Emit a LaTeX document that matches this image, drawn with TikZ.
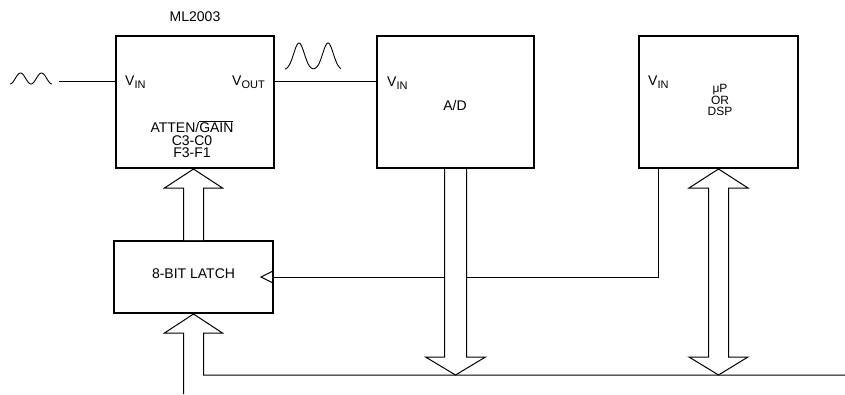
\documentclass[tikz,border=0pt]{standalone}
\usepackage{fontspec}
\setmainfont{Liberation Sans}
\usetikzlibrary{calc}
\newcommand{\lowsub}[1]{\raisebox{-3pt}{\fontsize{11}{11}\selectfont #1}}
\begin{document}
\begin{tikzpicture}[x=1pt,y=-1pt,
 box/.style={draw, line width=2pt, inner sep=0pt},
 wire/.style={line width=1pt},
 bus/.style={line width=1pt, fill=white, line join=miter},
 lbl/.style={inner sep=0pt, font=\fontsize{14}{14}\selectfont},
 small/.style={inner sep=0pt, font=\fontsize{12}{12}\selectfont}]
\useasboundingbox (0,0) rectangle (845,394);
% boxes
\node[box, minimum width=158pt, minimum height=132pt] (ml) at (195,102) {};
\node[box, minimum width=157pt, minimum height=132pt] (ad) at (455.5,102) {};
\node[box, minimum width=159pt, minimum height=132pt] (up) at (718.5,102) {};
\node[box, minimum width=159pt, minimum height=72pt] (latch) at (193.5,277) {};
% labels
\node[lbl] (mlname) at (195,17) {ML2003};
\node[lbl, anchor=base west] (vin1) at (125,85) {V\lowsub{IN}};
\node[lbl, anchor=base east] (vout) at (265,85) {V\lowsub{OUT}};
\node[lbl, anchor=base] (atten) at (192,132) {ATTEN/$\overline{\hbox{GAIN}}$};
\node[lbl, anchor=base] (cc) at (192,145) {C3-C0};
\node[lbl, anchor=base] (ff) at (192,157.5) {F3-F1};
\node[lbl, anchor=base west] (vin2) at (387,86) {V\lowsub{IN}};
\node[lbl] (adl) at (455,105) {A/D};
\node[lbl, anchor=base west] (vin3) at (648,85) {V\lowsub{IN}};
\node[small, anchor=base] (mup) at (720,92.5) {μP};
\node[small, anchor=base] (orl) at (720,104) {OR};
\node[small, anchor=base] (dsp) at (720,115.5) {DSP};
\node[lbl] (latchl) at (193.5,274) {8-BIT LATCH};
% signal wires
\coordinate (sigin) at (59,81);
\draw[wire] (sigin) -- (sigin -| ml.west);
\draw[wire] (ml.east |- sigin) -- (ad.west |- sigin);
% waveforms
\draw[line width=0.9pt] plot[domain=10:52, samples=80, smooth] (\x, {78.5+5.5*cos(360*(\x-10)/21)});
\draw[line width=0.9pt] plot[domain=285:341, samples=100, smooth] (\x, {70-27*(exp(-((\x-299)/7.5)^2)+exp(-((\x-328)/7.5)^2))});
% clock line
\coordinate (clk) at ($(up.south west)+(20,0)$);
\draw[wire] (clk) |- (latch.east);
\draw[wire] ([xshift=-1pt,yshift=-6pt]latch.east) -- ([xshift=-13pt]latch.east) -- ([xshift=-1pt,yshift=6pt]latch.east);
% feed bus into latch and horizontal bus
\coordinate (busE) at (845,375);
\coordinate (feed) at (193.5,394);
\draw[wire] let \p1=(latch.south), \p2=(busE), \p3=(feed) in
 (\x1-10pt,\y3) -- (\x1-10pt,\y1-19pt) -- (\x1-29pt,\y1-19pt) -- (\x1,\y1)
 -- (\x1+29pt,\y1-19pt) -- (\x1+10pt,\y1-19pt) -- (\x1+10pt,\y2) -- (\x2,\y2);
% latch -> ML2003
\draw[bus] let \p1=(latch.north), \p2=(ml.south) in
 (\x1-10pt,\y1) -- (\x1-10pt,\y2-19pt) -- (\x1-29pt,\y2-19pt) -- (\x1,\y2)
 -- (\x1+29pt,\y2-19pt) -- (\x1+10pt,\y2-19pt) -- (\x1+10pt,\y1);
% A/D -> bus
\draw[bus] let \p1=(ad.south), \p2=(busE) in
 (\x1-11pt,\y1) -- (\x1-11pt,\y2+18pt) -- (\x1-30pt,\y2+18pt) -- (\x1,\y2)
 -- (\x1+30pt,\y2+18pt) -- (\x1+11pt,\y2+18pt) -- (\x1+11pt,\y1);
% uP <-> bus
\draw[bus] let \p1=(up.south), \p2=(busE) in
 (\x1,\y1) -- (\x1+29.5pt,\y1-19pt) -- (\x1+10pt,\y1-19pt) -- (\x1+10pt,\y2+18pt)
 -- (\x1+29.5pt,\y2+18pt) -- (\x1,\y2) -- (\x1-29.5pt,\y2+18pt) -- (\x1-10pt,\y2+18pt)
 -- (\x1-10pt,\y1-19pt) -- (\x1-29.5pt,\y1-19pt) -- cycle;
\end{tikzpicture}
\end{document}
